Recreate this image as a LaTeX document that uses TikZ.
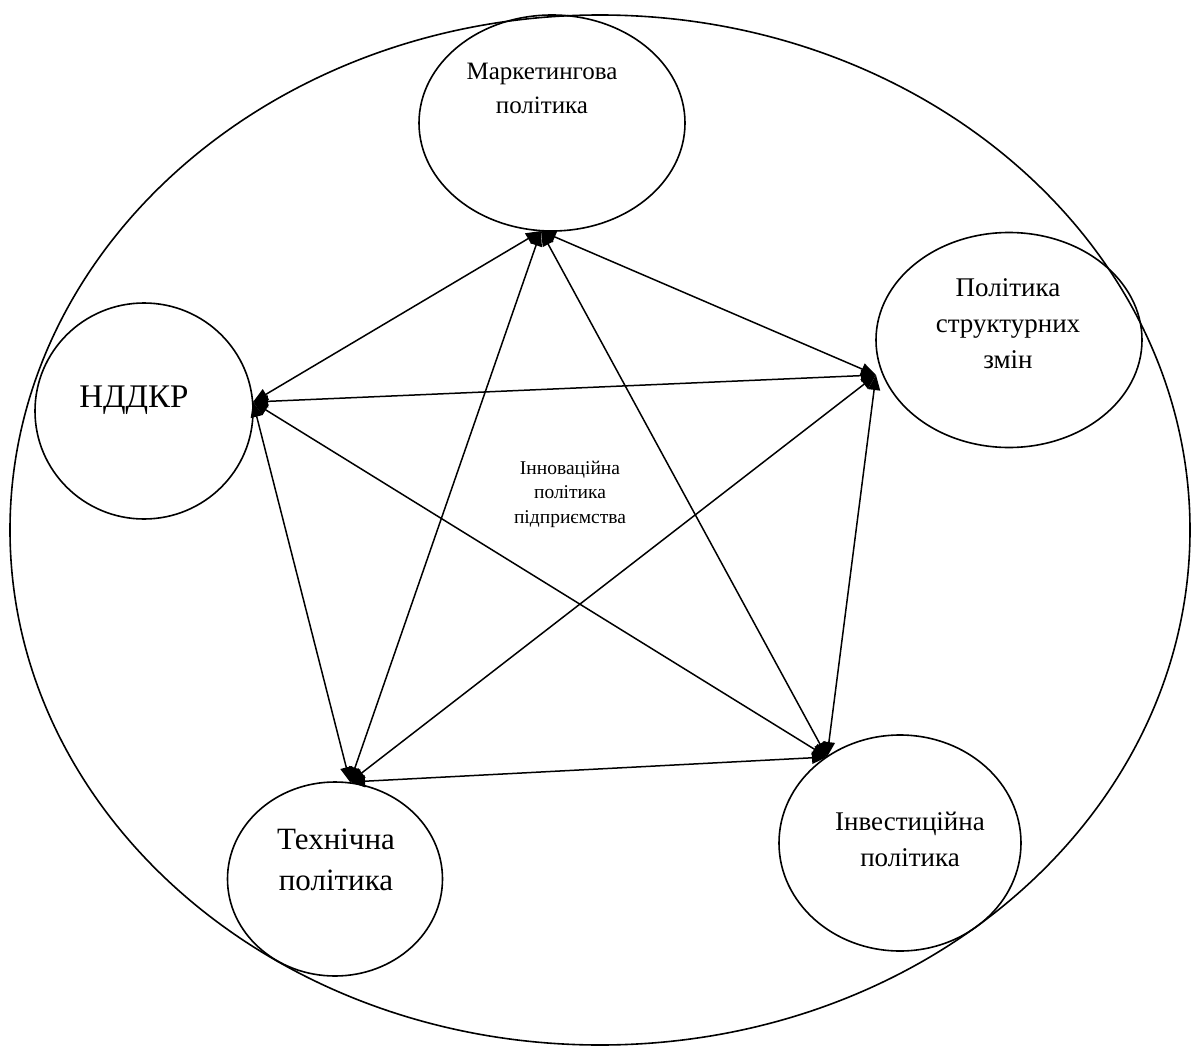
\documentclass[tikz,border=0pt]{standalone}
\usepackage{fontspec}
\setmainfont{Liberation Serif}
\newfontfamily\tnr{Liberation Serif}
\usetikzlibrary{shapes.geometric,arrows.meta}
\begin{document}
\begin{tikzpicture}[x=1pt,y=-1pt,
  bub/.style={draw,ellipse,line width=1.6pt,inner sep=0pt},
  lbl/.style={align=center,inner sep=0pt},
  link/.style={line width=1.5pt,{Triangle[length=15pt,width=12pt]}-{Triangle[length=15pt,width=12pt]}}
]
\useasboundingbox (0,0) rectangle (1192,1046);
\node[bub,minimum width=1180pt,minimum height=1030pt] (outer) at (600,530) {};
\node[bub,minimum width=266pt,minimum height=216pt] (m) at (552,123) {};
\node[bub,minimum width=266pt,minimum height=215pt] (s) at (1009,340) {};
\node[bub,minimum width=218pt,minimum height=216pt] (n) at (144,411) {};
\node[bub,minimum width=215pt,minimum height=194pt] (t) at (335,879) {};
\node[bub,minimum width=242pt,minimum height=216pt] (i) at (900,843) {};

\node[lbl,font=\tnr\fontsize{25}{34}\selectfont] (mt) at (542,88) {Маркетингова\\політика};
\node[lbl,font=\tnr\fontsize{27}{36}\selectfont] (st) at (1008,324) {Політика\\структурних\\змін};
\node[lbl,font=\tnr\fontsize{33}{40}\selectfont] (nt) at (134,400) {НДДКР};
\node[lbl,font=\tnr\fontsize{31}{41}\selectfont] (tt) at (336,860) {Технічна\\політика};
\node[lbl,font=\tnr\fontsize{27}{36}\selectfont] (it) at (910,839) {Інвестиційна\\політика};
\node[lbl,font=\tnr\fontsize{19.5}{24.5}\selectfont] (ct) at (570,494) {Інноваційна\\політика\\підприємства};

\coordinate (mP) at (541,231);
\coordinate (nP) at (253,402);
\coordinate (sP) at (876,375);
\coordinate (tP) at (350,782);
\coordinate (iP) at (827,757);

\draw[link] (mP) -- (nP);
\draw[link] (mP) -- (sP);
\draw[link] (mP) -- (tP);
\draw[link] (mP) -- (iP);
\draw[link] (nP) -- (sP);
\draw[link] (nP) -- (tP);
\draw[link] (nP) -- (iP);
\draw[link] (sP) -- (tP);
\draw[link] (sP) -- (iP);
\draw[link] (tP) -- (iP);
\end{tikzpicture}
\end{document}
